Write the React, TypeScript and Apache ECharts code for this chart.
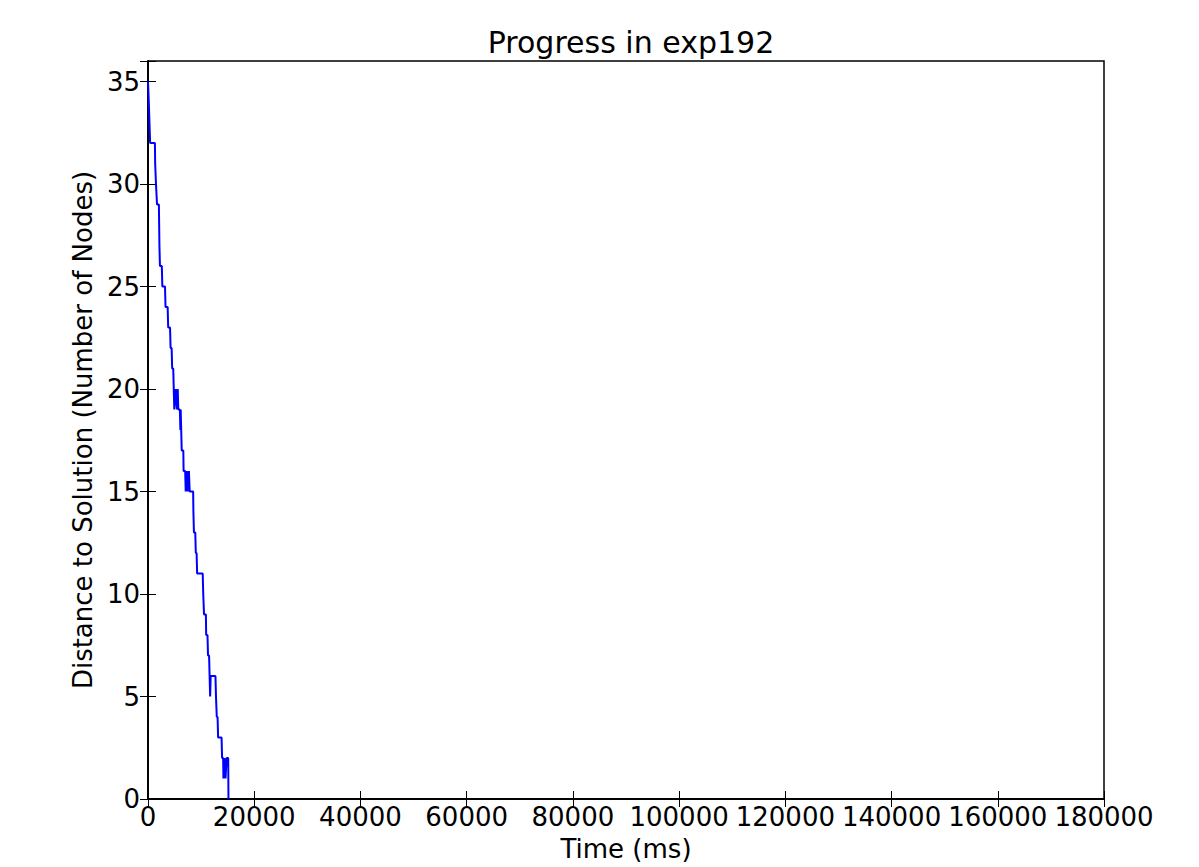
import React, { useEffect, useRef } from "react";
import * as echarts from "echarts";

const titleText = "Progress in exp192";
const xName = "Time (ms)";
const yName = "Distance to Solution (Number of Nodes)";

const timesMs = [
  0, 150, 400, 1300, 1350, 1500, 1700, 2050, 2150, 2250, 2600, 2700, 3200, 3300, 3700, 3800,
  4150, 4250, 4450, 4550, 4750, 4850, 4950, 5200, 5450, 5600, 5700, 6000, 6100, 6150, 6250,
  6350, 6650, 6700, 7000, 7100, 7300, 7500, 7700, 7850, 8500, 8550, 8650, 8900, 9000, 9150,
  9250, 10300, 10400, 10550, 10900, 10950, 11200, 11300, 11500, 11600, 11700, 11800, 12700,
  12800, 12950, 13100, 13200, 13850, 13950, 14150, 14200, 14400, 14600, 14800, 15100, 15150,
];
const distances = [
  35, 34, 32, 32, 31, 30, 29, 29, 27, 26, 26, 25, 25, 24, 24, 23,
  23, 22, 22, 21, 21, 20, 19, 20, 19, 20, 19, 19, 18, 19, 18,
  17, 17, 16, 16, 15, 16, 15, 16, 15, 15, 14, 13, 13, 12, 12,
  11, 11, 10, 9, 9, 8, 8, 7, 7, 6, 5, 6, 6,
  5, 4, 4, 3, 3, 2, 2, 1, 2, 1, 2, 2, 0,
];

const xMin = 0;
const xMax = 180000;
const xStep = 20000;
const yMin = 0;
const yMax = 36;
const yStep = 5;

export default function App() {
  const ref = useRef<HTMLDivElement>(null);
  useEffect(() => {
    if (!ref.current) return;
    const chart = echarts.init(ref.current, null, { renderer: "svg" });
    const font = "DejaVu Sans";
    const data = timesMs.map((t, i) => [t, distances[i]]);
    const tickCommon = { show: true, inside: true, length: 8, lineStyle: { color: "#000", width: 1 } };
    chart.setOption({
      animation: false,
      backgroundColor: "#fff",
      title: {
        text: titleText,
        left: 626,
        textAlign: "center",
        top: 22,
        textStyle: { fontFamily: font, fontSize: 30, fontWeight: "normal", color: "#000" },
      },
      grid: {
        left: 148,
        right: 95,
        top: 61,
        bottom: 67,
        show: true,
        borderColor: "#000",
        borderWidth: 1.5,
        backgroundColor: "#fff",
      },
      xAxis: [
        {
          type: "value",
          min: xMin,
          max: xMax,
          interval: xStep,
          name: xName,
          nameLocation: "middle",
          nameGap: 37,
          nameTextStyle: { fontFamily: font, fontSize: 26, color: "#000" },
          axisLine: { show: true, lineStyle: { color: "#000", width: 1.5 } },
          axisTick: tickCommon,
          splitLine: { show: false },
          axisLabel: {
            fontFamily: font,
            fontSize: 26,
            color: "#000",
            margin: 5,
            formatter: (v: number) => String(v),
          },
        },
        {
          type: "value",
          position: "top",
          min: xMin,
          max: xMax,
          interval: xStep,
          axisLine: { show: true, lineStyle: { color: "#000", width: 1.5 } },
          axisTick: tickCommon,
          splitLine: { show: false },
          axisLabel: { show: false },
        },
      ],
      yAxis: [
        {
          type: "value",
          min: yMin,
          max: yMax,
          interval: yStep,
          name: yName,
          nameLocation: "middle",
          nameGap: 50,
          nameTextStyle: { fontFamily: font, fontSize: 26, color: "#000" },
          axisLine: { show: true, lineStyle: { color: "#000", width: 1.5 } },
          axisTick: tickCommon,
          splitLine: { show: false },
          axisLabel: {
            fontFamily: font,
            fontSize: 26,
            color: "#000",
            margin: 8,
            formatter: (v: number) => (v % yStep === 0 ? String(v) : ""),
          },
        },
        {
          type: "value",
          position: "right",
          min: yMin,
          max: yMax,
          interval: yStep,
          axisLine: { show: true, lineStyle: { color: "#000", width: 1.5 } },
          axisTick: tickCommon,
          splitLine: { show: false },
          axisLabel: { show: false },
        },
      ],
      series: [
        {
          type: "line",
          data,
          xAxisIndex: 0,
          yAxisIndex: 0,
          showSymbol: false,
          symbol: "none",
          lineStyle: { color: "#0000ff", width: 2 },
          z: 5,
        },
      ],
    });
    return () => chart.dispose();
  }, []);
  return (
    <div
      ref={ref}
      style={{ position: "fixed", left: 0, top: 0, width: 1199, height: 867 }}
    />
  );
}
